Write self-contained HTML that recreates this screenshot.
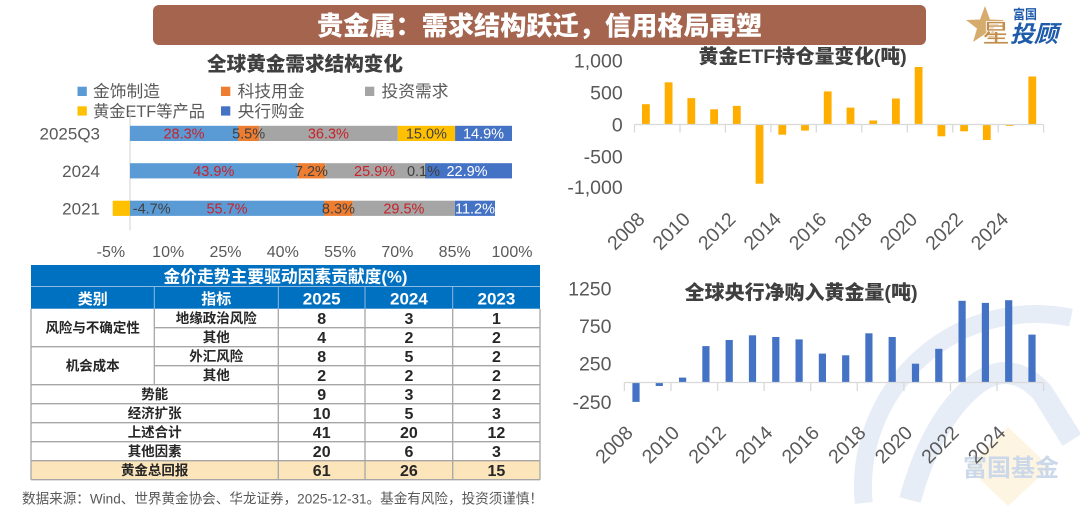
<!DOCTYPE html>
<html>
<head>
<meta charset="utf-8">
<style>
  html,body{margin:0;padding:0;background:#fff;width:1080px;height:512px;overflow:hidden;}
  svg{display:block;position:absolute;left:0;top:0;}
  text{font-family:"Liberation Sans","Noto Sans CJK SC",sans-serif;}
</style>
</head>
<body>
<svg width="1080" height="512" viewBox="0 0 1080 512" xmlns="http://www.w3.org/2000/svg" overflow="hidden">
  <rect width="1080" height="512" fill="#ffffff"/>

  <!-- watermark -->
  <g>
    <path d="M 863.7 503 A 173 173 0 0 1 1071 317.6" fill="none" stroke="#E7EDF6" stroke-width="18"/>
    <path d="M 910 500 Q 932 420 975 385 Q 1010 358 1042 392 L 1072 440" fill="none" stroke="#E7EDF6" stroke-width="22"/>
    <polygon points="1008,427 1050,467 1008,506 967,467" fill="#FDF5E2"/>
    <text x="1011" y="476" font-size="24" font-weight="700" fill="#CBD8EA" text-anchor="middle" textLength="96" lengthAdjust="spacingAndGlyphs">富国基金</text>
  </g>

  <!-- title bar -->
  <rect x="153" y="5" width="773" height="40" rx="6" fill="#A4644E"/>
  <text x="317" y="35" font-size="26" font-weight="900" fill="#ffffff" textLength="445" lengthAdjust="spacingAndGlyphs">贵金属：需求结构跃迁，信用格局再塑</text>

  <!-- logo -->
  <polygon points="985,6 990,19.5 1004,20 993,28.5 997,42 985,34 973,42 977,28.5 966,20 980,19.5" fill="#D6AC6E"/>
  <text x="982" y="42" font-size="25" font-weight="700" fill="#C38E4C" stroke="#ffffff" stroke-width="0.8" textLength="28" lengthAdjust="spacingAndGlyphs">星</text>
  <text x="1010" y="42" font-size="23" font-weight="700" font-style="italic" fill="#1E5BAA" textLength="48" lengthAdjust="spacingAndGlyphs">投顾</text>
  <text x="1013" y="19" font-size="13" font-weight="700" fill="#1E5BAA" textLength="24" lengthAdjust="spacingAndGlyphs">富国</text>

  <!-- ===== Left chart ===== -->
  <text x="305" y="70.5" font-size="19.5" font-weight="900" fill="#404040" text-anchor="middle" textLength="196" lengthAdjust="spacingAndGlyphs">全球黄金需求结构变化</text>

  <!-- legend -->
  <g font-size="16.5" fill="#595959">
    <rect x="77.5" y="86.7" width="9.3" height="9.3" fill="#5B9BD5"/>
    <text x="93" y="97.2" textLength="67" lengthAdjust="spacingAndGlyphs">金饰制造</text>
    <rect x="221" y="86.7" width="9.3" height="9.3" fill="#ED7D31"/>
    <text x="237.6" y="97.2" textLength="67" lengthAdjust="spacingAndGlyphs">科技用金</text>
    <rect x="365" y="86.7" width="9.3" height="9.3" fill="#A5A5A5"/>
    <text x="381.5" y="97.2" textLength="67" lengthAdjust="spacingAndGlyphs">投资需求</text>
    <rect x="77.5" y="106.3" width="9.3" height="9.3" fill="#FFC000"/>
    <text x="93" y="116.8" textLength="112" lengthAdjust="spacingAndGlyphs">黄金ETF等产品</text>
    <rect x="221" y="106.3" width="9.3" height="9.3" fill="#4472C4"/>
    <text x="237.6" y="116.8" textLength="67" lengthAdjust="spacingAndGlyphs">央行购金</text>
  </g>

  <!-- axis line -->
  <line x1="130" y1="110" x2="130" y2="230.5" stroke="#D9D9D9" stroke-width="1.2"/>

  <!-- category labels -->
  <g font-size="17" fill="#595959" text-anchor="end">
    <text x="100" y="139.5">2025Q3</text>
    <text x="100" y="176.8">2024</text>
    <text x="100" y="214.4">2021</text>
  </g>

  <!-- bars 2025Q3 -->
  <rect x="130" y="125.8" width="108.1" height="15.2" fill="#5B9BD5"/>
  <rect x="238.1" y="125.8" width="21" height="15.2" fill="#ED7D31"/>
  <rect x="259.1" y="125.8" width="138.7" height="15.2" fill="#A5A5A5"/>
  <rect x="397.8" y="125.8" width="57.3" height="15.2" fill="#FFC000"/>
  <rect x="455.1" y="125.8" width="56.9" height="15.2" fill="#4472C4"/>
  <!-- bars 2024 -->
  <rect x="130" y="163.2" width="167.7" height="15.2" fill="#5B9BD5"/>
  <rect x="297.7" y="163.2" width="27.5" height="15.2" fill="#ED7D31"/>
  <rect x="325.2" y="163.2" width="98.9" height="15.2" fill="#A5A5A5"/>
  <rect x="424.1" y="163.2" width="0.6" height="15.2" fill="#FFC000"/>
  <rect x="424.7" y="163.2" width="87.3" height="15.2" fill="#4472C4"/>
  <!-- bars 2021 -->
  <rect x="112.7" y="200.7" width="17.3" height="15.2" fill="#FFC000"/>
  <rect x="130" y="200.7" width="194" height="15.2" fill="#5B9BD5"/>
  <rect x="324" y="200.7" width="28.7" height="15.2" fill="#ED7D31"/>
  <rect x="352.7" y="200.7" width="102.3" height="15.2" fill="#A5A5A5"/>
  <rect x="455" y="200.7" width="40" height="15.2" fill="#4472C4"/>

  <!-- bar labels -->
  <g font-size="14.5" text-anchor="middle">
    <text x="184" y="138.6" fill="#C8222A">28.3%</text>
    <text x="248.6" y="138.6" fill="#404040">5.5%</text>
    <text x="328.4" y="138.6" fill="#C8222A">36.3%</text>
    <text x="426.4" y="138.6" fill="#404040">15.0%</text>
    <text x="483.5" y="138.6" fill="#ffffff">14.9%</text>

    <text x="213.8" y="176" fill="#C8222A">43.9%</text>
    <text x="311.4" y="176" fill="#404040">7.2%</text>
    <text x="374.6" y="176" fill="#C8222A">25.9%</text>
    <text x="423.5" y="176" fill="#404040">0.1%</text>
    <text x="467" y="176" fill="#ffffff">22.9%</text>

    <text x="151.7" y="213.5" fill="#404040">-4.7%</text>
    <text x="227" y="213.5" fill="#C8222A">55.7%</text>
    <text x="338.4" y="213.5" fill="#404040">8.3%</text>
    <text x="403.9" y="213.5" fill="#C8222A">29.5%</text>
    <text x="475" y="213.5" fill="#ffffff">11.2%</text>
  </g>

  <!-- x tick labels -->
  <g font-size="16" fill="#595959" text-anchor="middle">
    <text x="110.9" y="257">-5%</text>
    <text x="168.2" y="257">10%</text>
    <text x="225.5" y="257">25%</text>
    <text x="282.8" y="257">40%</text>
    <text x="340.1" y="257">55%</text>
    <text x="397.4" y="257">70%</text>
    <text x="454.7" y="257">85%</text>
    <text x="512" y="257">100%</text>
  </g>

  <!-- ===== Table ===== -->
  <rect x="31" y="265" width="509" height="43.7" fill="#0070C0"/>
  <line x1="31" y1="286.5" x2="540" y2="286.5" stroke="#8FB8E0" stroke-width="1"/>
  <g stroke="#8FB8E0" stroke-width="1">
    <line x1="154.3" y1="286.5" x2="154.3" y2="308.7"/>
    <line x1="278.3" y1="286.5" x2="278.3" y2="308.7"/>
    <line x1="365" y1="286.5" x2="365" y2="308.7"/>
    <line x1="452.7" y1="286.5" x2="452.7" y2="308.7"/>
  </g>
  <text x="285.5" y="282.5" font-size="17" font-weight="700" fill="#ffffff" text-anchor="middle" textLength="244" lengthAdjust="spacingAndGlyphs">金价走势主要驱动因素贡献度(%)</text>
  <g font-weight="700" fill="#ffffff" text-anchor="middle">
    <text x="92.7" y="304" font-size="15">类别</text>
    <text x="216.3" y="304" font-size="15">指标</text>
    <text x="321.7" y="304.5" font-size="17">2025</text>
    <text x="408.9" y="304.5" font-size="17">2024</text>
    <text x="496.4" y="304.5" font-size="17">2023</text>
  </g>

  <!-- last row bg -->
  <rect x="31" y="460.7" width="509" height="19" fill="#FCE4BB"/>

  <!-- table lines -->
  <g stroke="#A6A6A6" stroke-width="1.3" fill="none">
    <line x1="154.3" y1="327.7" x2="540" y2="327.7"/>
    <line x1="31" y1="346.7" x2="540" y2="346.7"/>
    <line x1="154.3" y1="365.7" x2="540" y2="365.7"/>
    <line x1="31" y1="384.7" x2="540" y2="384.7"/>
    <line x1="31" y1="403.7" x2="540" y2="403.7"/>
    <line x1="31" y1="422.7" x2="540" y2="422.7"/>
    <line x1="31" y1="441.7" x2="540" y2="441.7"/>
    <line x1="31" y1="460.7" x2="540" y2="460.7"/>
    <line x1="31" y1="479.7" x2="540" y2="479.7"/>
    <line x1="31" y1="308.7" x2="31" y2="479.7"/>
    <line x1="540" y1="308.7" x2="540" y2="479.7"/>
    <line x1="154.3" y1="308.7" x2="154.3" y2="384.7"/>
    <line x1="278.3" y1="308.7" x2="278.3" y2="479.7"/>
    <line x1="365" y1="308.7" x2="365" y2="479.7"/>
    <line x1="452.7" y1="308.7" x2="452.7" y2="479.7"/>
  </g>

  <!-- table text -->
  <g font-weight="700" fill="#262626" text-anchor="middle" font-size="13.5">
    <text x="92.7" y="332.5">风险与不确定性</text>
    <text x="92.7" y="370.5">机会成本</text>
    <text x="216.3" y="323">地缘政治风险</text>
    <text x="216.3" y="342">其他</text>
    <text x="216.3" y="361">外汇风险</text>
    <text x="216.3" y="380">其他</text>
    <text x="154.7" y="399">势能</text>
    <text x="154.7" y="418">经济扩张</text>
    <text x="154.7" y="437">上述合计</text>
    <text x="154.7" y="456">其他因素</text>
    <text x="154.7" y="475">黄金总回报</text>
  </g>
  <g font-weight="700" fill="#262626" text-anchor="middle" font-size="16">
    <text x="321.7" y="323.9">8</text><text x="408.9" y="323.9">3</text><text x="496.4" y="323.9">1</text>
    <text x="321.7" y="342.9">4</text><text x="408.9" y="342.9">2</text><text x="496.4" y="342.9">2</text>
    <text x="321.7" y="361.9">8</text><text x="408.9" y="361.9">5</text><text x="496.4" y="361.9">2</text>
    <text x="321.7" y="380.9">2</text><text x="408.9" y="380.9">2</text><text x="496.4" y="380.9">2</text>
    <text x="321.7" y="399.9">9</text><text x="408.9" y="399.9">3</text><text x="496.4" y="399.9">2</text>
    <text x="321.7" y="418.9">10</text><text x="408.9" y="418.9">5</text><text x="496.4" y="418.9">3</text>
    <text x="321.7" y="437.9">41</text><text x="408.9" y="437.9">20</text><text x="496.4" y="437.9">12</text>
    <text x="321.7" y="456.9">20</text><text x="408.9" y="456.9">6</text><text x="496.4" y="456.9">3</text>
    <text x="321.7" y="475.9">61</text><text x="408.9" y="475.9">26</text><text x="496.4" y="475.9">15</text>
  </g>

  <!-- footer -->
  <text x="22" y="503.5" font-size="14" fill="#595959" textLength="521" lengthAdjust="spacingAndGlyphs">数据来源：Wind、世界黄金协会、华龙证券，2025-12-31。基金有风险，投资须谨慎！</text>

  <!-- ===== Right top chart: ETF ===== -->
  <text x="802.7" y="63" font-size="19.5" font-weight="900" fill="#404040" text-anchor="middle" textLength="208" lengthAdjust="spacingAndGlyphs">黄金ETF持仓量变化(吨)</text>
  <g font-size="19.5" fill="#595959" text-anchor="end">
    <text x="622.7" y="67.3">1,000</text>
    <text x="622.7" y="99.4">500</text>
    <text x="622.7" y="131.5">0</text>
    <text x="622.7" y="163.6">-500</text>
    <text x="622.7" y="194">-1,000</text>
  </g>
  <g fill="#FFAE00">
    <rect x="642.0" y="104.2" width="7.8" height="20.3"/>
    <rect x="664.7" y="82.3" width="7.8" height="42.2"/>
    <rect x="687.4" y="98.1" width="7.8" height="26.4"/>
    <rect x="710.2" y="109.3" width="7.8" height="15.2"/>
    <rect x="732.9" y="105.9" width="7.8" height="18.6"/>
    <rect x="755.6" y="124.5" width="7.8" height="59.2"/>
    <rect x="778.4" y="124.5" width="7.8" height="10.2"/>
    <rect x="801.1" y="124.5" width="7.8" height="6.1"/>
    <rect x="823.8" y="91.4" width="7.8" height="33.1"/>
    <rect x="846.6" y="107.6" width="7.8" height="16.9"/>
    <rect x="869.3" y="120.5" width="7.8" height="4"/>
    <rect x="892.0" y="98.5" width="7.8" height="26"/>
    <rect x="914.7" y="67" width="7.8" height="57.5"/>
    <rect x="937.5" y="124.5" width="7.8" height="11.8"/>
    <rect x="960.2" y="124.5" width="7.8" height="6.8"/>
    <rect x="982.9" y="124.5" width="7.8" height="15.5"/>
    <rect x="1005.7" y="124.5" width="7.8" height="1.4"/>
    <rect x="1028.4" y="76.5" width="7.8" height="48"/>
  </g>
  <g stroke="#D9D9D9" stroke-width="1.3">
    <line x1="634.5" y1="124.5" x2="1043.6" y2="124.5"/>
    <line x1="634.5" y1="124.5" x2="634.5" y2="132.5"/>
    <line x1="680.0" y1="124.5" x2="680.0" y2="132.5"/>
    <line x1="725.4" y1="124.5" x2="725.4" y2="132.5"/>
    <line x1="770.9" y1="124.5" x2="770.9" y2="132.5"/>
    <line x1="816.3" y1="124.5" x2="816.3" y2="132.5"/>
    <line x1="861.8" y1="124.5" x2="861.8" y2="132.5"/>
    <line x1="907.3" y1="124.5" x2="907.3" y2="132.5"/>
    <line x1="952.7" y1="124.5" x2="952.7" y2="132.5"/>
    <line x1="998.2" y1="124.5" x2="998.2" y2="132.5"/>
    <line x1="1043.6" y1="124.5" x2="1043.6" y2="132.5"/>
  </g>
  <g font-size="19.5" fill="#595959" text-anchor="end">
    <text transform="translate(645.9,220.4) rotate(-45)">2008</text>
    <text transform="translate(691.3,220.4) rotate(-45)">2010</text>
    <text transform="translate(736.8,220.4) rotate(-45)">2012</text>
    <text transform="translate(782.3,220.4) rotate(-45)">2014</text>
    <text transform="translate(827.7,220.4) rotate(-45)">2016</text>
    <text transform="translate(873.2,220.4) rotate(-45)">2018</text>
    <text transform="translate(918.6,220.4) rotate(-45)">2020</text>
    <text transform="translate(964.1,220.4) rotate(-45)">2022</text>
    <text transform="translate(1009.6,220.4) rotate(-45)">2024</text>
  </g>

  <!-- ===== Right bottom chart: central banks ===== -->
  <text x="801.2" y="299" font-size="19.5" font-weight="900" fill="#404040" text-anchor="middle" textLength="233" lengthAdjust="spacingAndGlyphs">全球央行净购入黄金量(吨)</text>
  <g font-size="19.5" fill="#595959" text-anchor="end">
    <text x="611.5" y="295.7">1250</text>
    <text x="611.5" y="332.9">750</text>
    <text x="611.5" y="370.7">250</text>
    <text x="611.5" y="408.9">-250</text>
  </g>
  <g fill="#4472C4">
    <rect x="632.4" y="382.5" width="7.2" height="19.4"/>
    <rect x="655.7" y="382.5" width="7.2" height="3.5"/>
    <rect x="679.0" y="377.6" width="7.2" height="4.9"/>
    <rect x="702.3" y="346.1" width="7.2" height="36.4"/>
    <rect x="725.6" y="340" width="7.2" height="42.5"/>
    <rect x="748.9" y="335.3" width="7.2" height="47.2"/>
    <rect x="772.2" y="337" width="7.2" height="45.5"/>
    <rect x="795.5" y="339.4" width="7.2" height="43.1"/>
    <rect x="818.8" y="353.6" width="7.2" height="28.9"/>
    <rect x="842.1" y="355.3" width="7.2" height="27.2"/>
    <rect x="865.3" y="333.3" width="7.2" height="49.2"/>
    <rect x="888.6" y="337" width="7.2" height="45.5"/>
    <rect x="911.9" y="363.7" width="7.2" height="18.8"/>
    <rect x="935.2" y="348.8" width="7.2" height="33.7"/>
    <rect x="958.5" y="300.8" width="7.2" height="81.7"/>
    <rect x="981.8" y="302.9" width="7.2" height="79.6"/>
    <rect x="1005.1" y="300.2" width="7.2" height="82.3"/>
    <rect x="1028.4" y="334.6" width="7.2" height="47.9"/>
  </g>
  <g stroke="#D9D9D9" stroke-width="1.3">
    <line x1="624.4" y1="382.5" x2="1043.6" y2="382.5"/>
    <line x1="624.4" y1="382.5" x2="624.4" y2="391"/>
    <line x1="671.0" y1="382.5" x2="671.0" y2="391"/>
    <line x1="717.6" y1="382.5" x2="717.6" y2="391"/>
    <line x1="764.1" y1="382.5" x2="764.1" y2="391"/>
    <line x1="810.7" y1="382.5" x2="810.7" y2="391"/>
    <line x1="857.3" y1="382.5" x2="857.3" y2="391"/>
    <line x1="903.9" y1="382.5" x2="903.9" y2="391"/>
    <line x1="950.5" y1="382.5" x2="950.5" y2="391"/>
    <line x1="997.0" y1="382.5" x2="997.0" y2="391"/>
    <line x1="1043.6" y1="382.5" x2="1043.6" y2="391"/>
  </g>
  <g font-size="19.5" fill="#595959" text-anchor="end">
    <text transform="translate(634,434) rotate(-45)">2008</text>
    <text transform="translate(680.6,434) rotate(-45)">2010</text>
    <text transform="translate(727.2,434) rotate(-45)">2012</text>
    <text transform="translate(773.8,434) rotate(-45)">2014</text>
    <text transform="translate(820.4,434) rotate(-45)">2016</text>
    <text transform="translate(866.9,434) rotate(-45)">2018</text>
    <text transform="translate(913.5,434) rotate(-45)">2020</text>
    <text transform="translate(960.1,434) rotate(-45)">2022</text>
    <text transform="translate(1006.7,434) rotate(-45)">2024</text>
  </g>
</svg>
</body>
</html>
